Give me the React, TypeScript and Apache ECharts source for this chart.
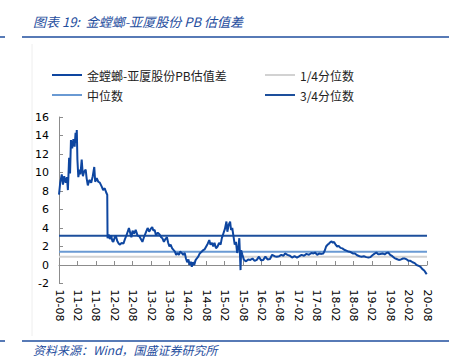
import React, { useEffect, useRef } from "react";
import * as echarts from "echarts";

const seriesName = "金螳螂-亚厦股份PB估值差";
const q1Name = "1/4分位数";
const medName = "中位数";
const q3Name = "3/4分位数";

const dates = [
  "2010-08-01","2010-08-13","2010-08-28","2010-09-10","2010-09-22","2010-10-07","2010-10-19","2010-10-28",
  "2010-11-10","2010-11-19","2010-11-28","2010-12-10","2010-12-22","2011-01-04","2011-01-13","2011-01-19",
  "2011-01-25","2011-02-01","2011-02-10","2011-02-22","2011-03-01","2011-03-13","2011-03-25","2011-04-07",
  "2011-04-22","2011-05-01","2011-05-13","2011-05-28","2011-06-16","2011-07-01","2011-07-16","2011-07-25",
  "2011-08-10","2011-08-25","2011-09-10","2011-09-28","2011-10-13","2011-10-28","2011-11-16","2011-11-23",
  "2011-11-26","2011-12-07","2011-12-19","2012-01-01","2012-01-13","2012-01-22","2012-02-04","2012-02-16",
  "2012-03-01","2012-03-16","2012-03-28","2012-04-13","2012-05-01","2012-05-16","2012-06-01","2012-06-13",
  "2012-06-25","2012-07-07","2012-07-19","2012-08-01","2012-08-16","2012-09-01","2012-09-19","2012-10-07",
  "2012-10-22","2012-11-07","2012-11-22","2012-12-10","2012-12-28","2013-01-13","2013-01-28","2013-02-13",
  "2013-02-25","2013-03-07","2013-03-19","2013-04-07","2013-04-25","2013-05-10","2013-05-22","2013-06-07",
  "2013-06-22","2013-07-07","2013-07-19","2013-08-01","2013-08-13","2013-08-28","2013-09-13","2013-09-25",
  "2013-10-07","2013-10-19","2013-11-04","2013-11-16","2013-12-01","2013-12-16","2014-01-01","2014-01-13",
  "2014-01-25","2014-02-07","2014-02-19","2014-03-01","2014-03-10","2014-03-22","2014-04-04","2014-04-16",
  "2014-04-28","2014-05-13","2014-05-28","2014-06-13","2014-07-01","2014-07-16","2014-08-01","2014-08-16",
  "2014-09-01","2014-09-13","2014-09-28","2014-10-10","2014-10-22","2014-11-07","2014-11-22","2014-12-07",
  "2014-12-22","2015-01-04","2015-01-19","2015-02-04","2015-02-19","2015-02-28","2015-03-10","2015-03-25",
  "2015-04-04","2015-04-16","2015-04-28","2015-05-10","2015-05-22","2015-06-04","2015-06-16","2015-06-25",
  "2015-07-01","2015-07-07","2015-07-13","2015-07-25","2015-08-10","2015-09-01","2015-09-22","2015-10-13",
  "2015-11-04","2015-11-25","2015-12-16","2016-01-07","2016-01-28","2016-02-19","2016-03-10","2016-04-01",
  "2016-04-25","2016-05-16","2016-06-10","2016-07-01","2016-07-25","2016-08-16","2016-09-07","2016-09-22",
  "2016-10-16","2016-11-10","2016-12-01","2016-12-25","2017-01-19","2017-02-13","2017-03-04","2017-03-28",
  "2017-04-22","2017-05-16","2017-06-10","2017-07-01","2017-07-16","2017-08-07","2017-08-28","2017-09-19",
  "2017-10-07","2017-10-22","2017-11-04","2017-11-19","2017-12-01","2017-12-13","2017-12-28","2018-01-10",
  "2018-01-22","2018-02-07","2018-02-22","2018-03-07","2018-03-25","2018-04-13","2018-05-01","2018-05-22",
  "2018-06-13","2018-07-04","2018-07-25","2018-08-16","2018-09-07","2018-10-01","2018-10-22","2018-11-13",
  "2018-12-07","2018-12-28","2019-01-16","2019-02-07","2019-02-25","2019-03-16","2019-04-04","2019-04-25",
  "2019-05-16","2019-06-07","2019-06-25","2019-07-13","2019-08-01","2019-08-22","2019-09-13","2019-10-04",
  "2019-10-25","2019-11-16","2019-12-07","2019-12-25","2020-01-13","2020-02-01","2020-02-19","2020-03-10",
  "2020-04-01","2020-04-19","2020-05-10","2020-05-28","2020-06-16","2020-07-04","2020-07-19","2020-07-28"
];

const values = [
  7.6, 8.9, 9.8, 8.7, 9.6, 8.9, 9.5, 8.1,
  11.6, 9.9, 13.5, 12.6, 13.6, 12.8, 14.3, 13.2,
  14.6, 11.4, 9.5, 10.3, 9.8, 11.4, 9.6, 10.1,
  10.3, 9.4, 8.6, 9.2, 8.9, 9.6, 10.6, 9.0,
  9.4, 9.0, 8.9, 8.5, 8.1, 8.3, 7.75, 7.6,
  2.9, 3.3, 2.8, 3.2, 2.6, 2.5, 2.9, 3.2,
  2.6, 2.3, 2.2, 2.4, 2.3, 2.8, 3.2, 3.6,
  4.0, 3.5, 3.0, 3.7, 3.4, 3.8, 3.2, 3.1,
  2.8, 2.5, 3.0, 3.5, 4.0, 3.6, 3.9, 4.1,
  3.7, 3.8, 3.2, 3.5, 3.3, 3.0, 2.9, 2.5,
  2.8, 3.0, 2.4, 2.0, 2.2, 1.8, 1.6, 1.45,
  1.1, 1.3, 1.1, 1.45, 1.3, 1.1, 1.3, 0.7,
  0.3, 0.6, 0.0, 0.35, -0.2, 0.3, 0.0, 0.5,
  0.7, 0.9, 1.25, 1.4, 1.6, 1.7, 2.0, 2.3,
  2.7, 2.2, 2.4, 2.0, 2.4, 1.8, 2.0, 2.4,
  2.2, 2.9, 3.4, 3.9, 4.7, 3.6, 4.3, 4.7,
  3.8, 4.0, 3.1, 2.2, 2.5, 1.3, 2.0, 2.9,
  1.2, -0.55, 1.6, 1.1, 0.55, 0.4, 0.6, 0.55,
  0.7, 0.45, 0.55, 0.9, 0.5, 0.55, 0.9, 0.6,
  0.65, 1.1, 0.95, 0.9, 0.95, 1.1, 1.0, 1.25,
  1.1, 1.0, 0.8, 0.95, 0.8, 0.95, 1.1, 1.0,
  1.2, 1.1, 1.3, 1.25, 1.35, 1.1, 1.25, 1.2,
  1.25, 1.6, 2.0, 2.2, 2.3, 2.45, 2.55, 2.4,
  2.5, 2.2, 2.0, 2.05, 1.85, 1.8, 1.65, 1.55,
  1.45, 1.4, 1.25, 1.25, 1.05, 0.95, 0.9, 0.95,
  0.85, 0.8, 0.85, 1.05, 1.2, 1.35, 1.15, 1.2,
  1.25, 1.15, 1.3, 1.35, 1.1, 0.95, 0.75, 0.65,
  0.55, 0.6, 0.7, 0.7, 0.6, 0.45, 0.45, 0.3,
  0.2, 0.0, -0.1, -0.2, -0.45, -0.6, -0.85, -1.0
];

const quartile1 = 0.9;
const median = 1.44;
const quartile3 = 3.17;

const xStart = "2010-08-01";
const xEnd = "2020-08-01";
const yTicks = { min: -2, max: 16, interval: 2 };

function monthIndex(s: string): number {
  const [y, m, d] = s.split("-").map(Number);
  return (y - 2010) * 12 + (m - 8) + (d - 1) / 30;
}

function fmtMonth(v: number): string {
  const total = 7 + Math.round(v);
  const y = 2010 + Math.floor(total / 12);
  const m = (total % 12) + 1;
  return `${String(y % 100).padStart(2, "0")}-${String(m).padStart(2, "0")}`;
}

const BLUE = "#1F4E9E";
const LINE_ICON = "path://M0,0 L30,0 L30,2 L0,2 Z";

export default function App() {
  const ref = useRef<HTMLDivElement>(null);
  useEffect(() => {
    if (!ref.current) return;
    const chart = echarts.init(ref.current, undefined, { renderer: "svg" });
    const x0 = monthIndex(xStart);
    const x1 = monthIndex(xEnd);
    const main = dates.map((d, i) => [monthIndex(d), values[i]]);
    const flat = (v: number) => [[x0, v], [x1, v]];
    const cjk = '"Noto Sans CJK SC", sans-serif';
    const legendBase = {
      orient: "vertical",
      top: 63,
      itemWidth: 30,
      itemHeight: 14,
      itemGap: 6,
      icon: LINE_ICON,
      textStyle: { fontFamily: cjk, fontSize: 12, lineHeight: 14, color: "#222" },
    };
    chart.setOption({
      animation: false,
      backgroundColor: "#fff",
      grid: { left: 59, right: 22, top: 117, bottom: 73.5, containLabel: false },
      legend: [
        { ...legendBase, left: 47, data: [seriesName, medName] },
        { ...legendBase, left: 260, data: [q1Name, q3Name] },
      ],
      xAxis: {
        type: "value",
        min: x0,
        max: x1,
        interval: 6,
        axisLine: { onZero: true, lineStyle: { color: "#8c8c8c", width: 1 } },
        axisTick: { show: true, inside: true, length: 4, lineStyle: { color: "#8c8c8c" } },
        splitLine: { show: false },
        axisLabel: {
          rotate: -90,
          margin: 6,
          fontFamily: "DejaVu Sans",
          fontSize: 11,
          color: "#000",
          formatter: (v: number) => fmtMonth(v),
        },
      },
      yAxis: {
        type: "value",
        min: yTicks.min,
        max: yTicks.max,
        interval: yTicks.interval,
        axisLine: { show: true, lineStyle: { color: "#8c8c8c", width: 1 } },
        axisTick: { show: true, inside: true, length: 4, lineStyle: { color: "#8c8c8c" } },
        splitLine: { show: false },
        axisLabel: { fontFamily: "DejaVu Sans", fontSize: 11, color: "#000", margin: 10 },
      },
      series: [
        {
          name: seriesName,
          type: "line",
          data: main,
          symbol: "none",
          z: 5,
          color: "#0E46A0",
          lineStyle: { color: "#0E46A0", width: 2 },
        },
        {
          name: q1Name,
          type: "line",
          data: flat(quartile1),
          symbol: "none",
          z: 2,
          color: "#D2D2D2",
          lineStyle: { color: "#D2D2D2", width: 2 },
        },
        {
          name: medName,
          type: "line",
          data: flat(median),
          symbol: "none",
          z: 2,
          color: "#6A9AD3",
          lineStyle: { color: "#6A9AD3", width: 2 },
        },
        {
          name: q3Name,
          type: "line",
          data: flat(quartile3),
          symbol: "none",
          z: 2,
          color: "#1D4F9C",
          lineStyle: { color: "#1D4F9C", width: 2 },
        },
      ],
      graphic: [
        { type: "line", shape: { x1: 32, y1: 44, x2: 32, y2: 336 }, style: { stroke: "#eeeeee", lineWidth: 1 } },
        {
          type: "text",
          left: 33,
          top: 15,
          style: {
            text: "图表 19:  金螳螂-亚厦股份 PB 估值差",
            fontFamily: cjk,
            fontStyle: "italic",
            fontSize: 13,
            fill: BLUE,
          },
        },
        { type: "line", shape: { x1: 0, y1: 37, x2: 5, y2: 37 }, style: { stroke: BLUE, lineWidth: 1.5 } },
        { type: "line", shape: { x1: 22, y1: 37, x2: 449, y2: 37 }, style: { stroke: BLUE, lineWidth: 1.5 } },
        { type: "line", shape: { x1: 0, y1: 341, x2: 5, y2: 341 }, style: { stroke: BLUE, lineWidth: 1.5 } },
        { type: "line", shape: { x1: 22, y1: 341, x2: 449, y2: 341 }, style: { stroke: BLUE, lineWidth: 1.5 } },
        {
          type: "text",
          left: 33,
          top: 343,
          style: {
            text: "资料来源：Wind，国盛证券研究所",
            fontFamily: cjk,
            fontStyle: "italic",
            fontSize: 12,
            fill: BLUE,
          },
        },
      ],
    });
    return () => chart.dispose();
  }, []);
  return (
    <div
      ref={ref}
      style={{ position: "absolute", left: 0, top: 0, width: 449, height: 357 }}
    />
  );
}
